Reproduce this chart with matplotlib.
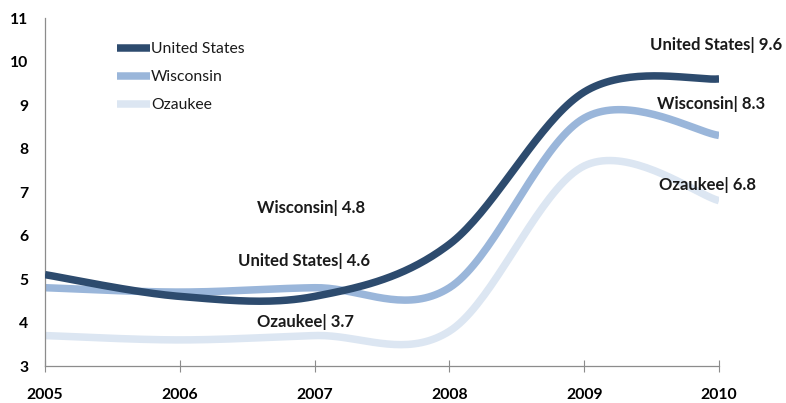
import numpy as np
import matplotlib
matplotlib.use("Agg")
import matplotlib.pyplot as plt

years = [2005, 2006, 2007, 2008, 2009, 2010]
us = [5.1, 4.6, 4.6, 5.8, 9.3, 9.6]
wisconsin = [4.8, 4.7, 4.8, 4.8, 8.7, 8.3]
ozaukee = [3.7, 3.6, 3.7, 3.8, 7.6, 6.8]
series_names = ["United States", "Wisconsin", "Ozaukee"]
colors = ["#2D4B6E", "#9AB6DA", "#DCE6F2"]

plt.rcParams['font.family'] = ['Lato', 'DejaVu Sans']


def smooth(xs, ys, n=40):
    # Excel-like smoothed line (Catmull-Rom bezier)
    P = np.column_stack([xs, ys]).astype(float)
    P_ext = np.vstack([P[0], P, P[-1]])
    out = []
    t = np.linspace(0, 1, n)[:, None]
    for i in range(len(P) - 1):
        p0, p1, p2, p3 = P_ext[i], P_ext[i + 1], P_ext[i + 2], P_ext[i + 3]
        c1 = p1 + (p2 - p0) / 6.0
        c2 = p2 - (p3 - p1) / 6.0
        seg = ((1 - t) ** 3) * p1 + 3 * ((1 - t) ** 2) * t * c1 + 3 * (1 - t) * t ** 2 * c2 + t ** 3 * p2
        out.append(seg if i == 0 else seg[1:])
    s = np.vstack(out)
    return s[:, 0], s[:, 1]


fig = plt.figure(figsize=(7.86, 4.03), dpi=100)
ax = fig.add_axes([0.0573, 0.0918, 0.8575, 0.8635])

data = [us, wisconsin, ozaukee]
for k, (name, vals, c) in enumerate(zip(series_names, data, colors)):
    sx, sy = smooth(years, vals)
    ax.plot(sx, sy, color=c, lw=5.4, solid_capstyle='butt', label=name, zorder=3 - k)

ax.set_xlim(2005, 2010)
ax.set_ylim(3, 11)
ax.set_xticks(years)
ax.set_yticks(range(3, 12))
ax.tick_params(axis='x', direction='inout', length=8, width=0.8, color='#8C8C8C', pad=12,
               labelsize=11.3)
ax.tick_params(axis='y', length=0, pad=12, labelsize=11.3)
for lab in ax.get_xticklabels() + ax.get_yticklabels():
    lab.set_fontweight('bold')
for sp in ['top', 'right']:
    ax.spines[sp].set_visible(False)
for sp in ['left', 'bottom']:
    ax.spines[sp].set_color('#8C8C8C')
    ax.spines[sp].set_linewidth(0.9)

# end labels (value + offset)
end_pos = {"United States": (2009.98, 0.78), "Wisconsin": (2009.94, 0.72),
           "Ozaukee": (2009.915, 0.36)}
for name, vals in zip(series_names, data):
    x, dy = end_pos[name]
    ax.text(x, vals[-1] + dy, f"{name}| {vals[-1]}", ha='center', va='center', fontsize=12,
            fontweight='bold', color='#1A1A1A', clip_on=False)

mid_pos = {"United States": (2006.92, 0.81), "Wisconsin": (2006.97, 1.83),
           "Ozaukee": (2006.93, 0.31)}
for name, vals in zip(series_names, data):
    x, dy = mid_pos[name]
    v = vals[years.index(2007)]
    ax.text(x, v + dy, f"{name}| {v}", ha='center', va='center', fontsize=12,
            fontweight='bold', color='#1A1A1A')

leg = ax.legend(loc='upper left', bbox_to_anchor=(0.098, 0.948), frameon=False,
                handlelength=2.1, handletextpad=0.05, labelspacing=0.88, fontsize=11.3,
                borderaxespad=0)
for h in leg.get_lines():
    h.set_linewidth(5.4)
for t in leg.get_texts():
    t.set_color('#1A1A1A')

fig.savefig("out.png", dpi=100)
